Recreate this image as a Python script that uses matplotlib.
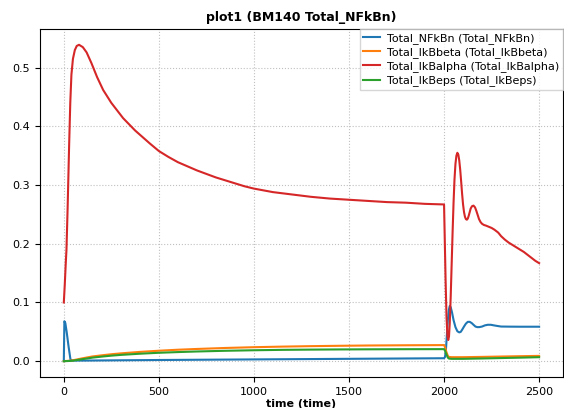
import matplotlib
matplotlib.use("Agg")
import matplotlib.pyplot as plt

# values
t_nfkbn = [0, 3, 8, 15, 25, 35, 45, 100, 500, 1000, 1500, 2000, 2005, 2010, 2015, 2020, 2025, 2030,
           2035, 2042, 2050, 2060, 2070, 2080, 2088, 2096, 2105, 2115, 2125, 2135, 2145, 2155, 2165,
           2175, 2185, 2200, 2215, 2230, 2246, 2262, 2280, 2300, 2350, 2400, 2450, 2500]
nfkbn = [0.0, 0.068, 0.065, 0.05, 0.025, 0.003, 0.001, 0.001, 0.002, 0.003, 0.004, 0.005, 0.007,
         0.02, 0.045, 0.07, 0.087, 0.094, 0.092, 0.083, 0.07, 0.058, 0.051, 0.049, 0.05, 0.054,
         0.059, 0.064, 0.067, 0.067, 0.065, 0.062, 0.059, 0.058, 0.058, 0.059, 0.061, 0.062, 0.062,
         0.061, 0.060, 0.059, 0.0588, 0.0587, 0.0587, 0.0587]

t_beta = [0, 40, 70, 100, 150, 200, 250, 300, 400, 500, 600, 700, 850, 1000, 1150, 1300, 1450,
          1600, 1800, 2000, 2005, 2012, 2020, 2026, 2040, 2100, 2200, 2300, 2400, 2500]
ikbbeta = [0.0, 0.001, 0.003, 0.005, 0.008, 0.010, 0.0118, 0.0133, 0.0158, 0.0178, 0.0195,
           0.0208, 0.0225, 0.0238, 0.0248, 0.0256, 0.0262, 0.0267, 0.0271, 0.0274, 0.024, 0.016,
           0.009, 0.0072, 0.0068, 0.0068, 0.0073, 0.0079, 0.0085, 0.009]

t_alpha = [0, 5, 10, 14, 20, 28, 34, 40, 48, 58, 68, 80, 100, 120, 145, 175, 207, 250, 312, 375,
           452, 500, 550, 600, 650, 700, 750, 800, 850, 900, 950, 1000, 1100, 1200, 1300, 1400,
           1500, 1600, 1700, 1800, 1900, 2000, 2003, 2008, 2013, 2018, 2022, 2026, 2030, 2035,
           2040, 2045, 2050, 2055, 2060, 2065, 2070, 2075, 2080, 2085, 2090, 2095, 2100, 2105,
           2110, 2115, 2120, 2125, 2130, 2135, 2140, 2147, 2155, 2163, 2170, 2177, 2184, 2192,
           2200, 2210, 2220, 2235, 2250, 2265, 2285, 2300, 2320, 2340, 2360, 2380, 2400, 2420,
           2440, 2460, 2480, 2500]
ikbalpha = [0.1, 0.13, 0.165, 0.19, 0.26, 0.368, 0.44, 0.488, 0.515, 0.53, 0.537, 0.539, 0.535,
            0.526, 0.508, 0.484, 0.462, 0.44, 0.414, 0.393, 0.371, 0.358, 0.348, 0.339, 0.332,
            0.325, 0.319, 0.313, 0.308, 0.303, 0.298, 0.294, 0.288, 0.284, 0.28, 0.277, 0.275,
            0.273, 0.271, 0.27, 0.268, 0.267, 0.22, 0.14, 0.075, 0.042, 0.036, 0.042, 0.065,
            0.11, 0.165, 0.22, 0.27, 0.31, 0.336, 0.35, 0.355, 0.352, 0.342, 0.326, 0.306, 0.285,
            0.267, 0.254, 0.246, 0.242, 0.241, 0.243, 0.248, 0.254, 0.26, 0.264, 0.265, 0.262,
            0.256, 0.249, 0.242, 0.237, 0.234, 0.232, 0.231, 0.229, 0.227, 0.224, 0.219, 0.213,
            0.207, 0.202, 0.198, 0.194, 0.19, 0.186, 0.181, 0.176, 0.171, 0.167]

t_eps = [0, 40, 70, 100, 150, 200, 250, 300, 400, 500, 600, 700, 850, 1000, 1150, 1300, 1450,
         1600, 1800, 2000, 2005, 2012, 2020, 2026, 2040, 2100, 2200, 2300, 2400, 2500]
ikbeps = [0.0, 0.0005, 0.002, 0.0035, 0.006, 0.0078, 0.0094, 0.0107, 0.0127, 0.0143, 0.0155,
          0.0165, 0.0177, 0.0186, 0.0193, 0.0197, 0.02, 0.0202, 0.0204, 0.0205, 0.018, 0.012,
          0.006, 0.0044, 0.004, 0.004, 0.0046, 0.0053, 0.006, 0.0068]

fig = plt.figure(figsize=(5.64, 4.08), dpi=100)
ax = fig.add_axes([0.071, 0.076, 0.927, 0.853])

ax.plot(t_nfkbn, nfkbn, color="#1f77b4", lw=1.5, label="Total_NFkBn (Total_NFkBn)")
ax.plot(t_beta, ikbbeta, color="#ff7f0e", lw=1.5, label="Total_IkBbeta (Total_IkBbeta)")
ax.plot(t_alpha, ikbalpha, color="#d62728", lw=1.5, label="Total_IkBalpha (Total_IkBalpha)")
ax.plot(t_eps, ikbeps, color="#2ca02c", lw=1.5, label="Total_IkBeps (Total_IkBeps)")

ax.grid(True, linestyle=":", color="#c0c0c0", lw=0.8)
ax.tick_params(labelsize=8)
ax.set_title("plot1 (BM140 Total_NFkBn)", fontsize=9, fontweight="bold")
ax.set_xlabel("time (time)", fontsize=8, fontweight="bold", labelpad=2)
ax.legend(loc="upper right", fontsize=8, borderaxespad=0, fancybox=False,
          handlelength=1.5, handletextpad=0.6, labelspacing=0.3, borderpad=0.35)

fig.savefig("out.png", dpi=100)
